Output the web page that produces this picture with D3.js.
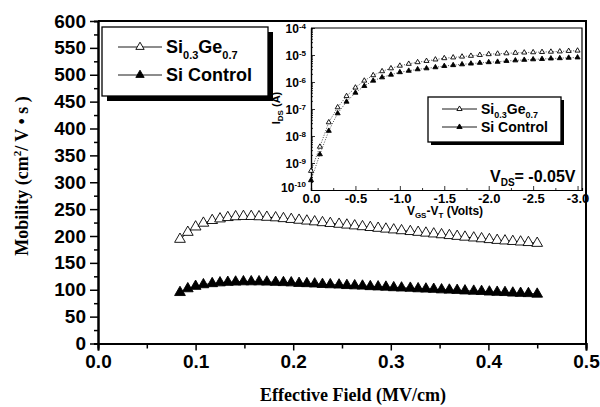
<!DOCTYPE html>
<html>
<head>
<meta charset="utf-8">
<script src="https://d3js.org/d3.v7.min.js"></script>
<style>
body { margin: 0; background: #fff; }
.axis path, .axis line { fill: none; stroke: #000; }
.axis text { font-family: "Liberation Sans", Arial, sans-serif; font-weight: bold; fill: #000; }
.main.axis path { stroke-width: 2; }
.main.axis line { stroke-width: 1.5; }
.main.axis text { font-size: 19px; }
.inset.axis path { stroke-width: 1.2; }
.inset.axis line { stroke-width: 0.8; }
.inset.axis text { font-size: 13px; }
.title { font-family: "Liberation Serif", "Times New Roman", serif; font-weight: bold; font-size: 18px; }
.lg { font-family: "Liberation Sans", Arial, sans-serif; font-weight: bold; }
</style>
</head>
<body>
<div id="container"></div>
<script>

// main plot: mobility vs effective field
var field = [0.084, 0.092, 0.100, 0.108, 0.117, 0.125, 0.133, 0.141, 0.149, 0.157,
             0.165, 0.173, 0.182, 0.190, 0.198, 0.206, 0.214, 0.222, 0.230, 0.238,
             0.247, 0.255, 0.263, 0.271, 0.279, 0.287, 0.295, 0.303, 0.311, 0.320,
             0.328, 0.336, 0.344, 0.352, 0.360, 0.368, 0.376, 0.385, 0.393, 0.401,
             0.409, 0.417, 0.425, 0.433, 0.441, 0.450];
var mobSiGe = [194, 207, 217, 224, 229, 232, 234.5, 236, 236.5, 236.5,
               236, 235, 234, 232.5, 231, 229.5, 228, 226.5, 225, 223.5,
               222, 220.5, 219, 217.5, 216, 214.5, 213, 211.5, 210, 208.5,
               207, 205.5, 204, 202.5, 201, 199.5, 198, 196.5, 195, 193.5,
               192, 191, 190, 189, 188, 186.5];
var mobSi = [95, 102, 106.5, 109.5, 111.5, 113, 114, 114.5, 115, 115,
             115, 114.5, 114, 113.5, 113, 112, 111.5, 111, 110, 109.5,
             109, 108, 107.5, 107, 106, 105.5, 105, 104, 103.5, 103,
             102, 101.5, 101, 100, 99.5, 99, 98, 97.5, 97, 96,
             95.5, 95, 94, 93.5, 93, 92];
var xTicks = [0.0, 0.1, 0.2, 0.3, 0.4, 0.5];
var yTicks = [0, 50, 100, 150, 200, 250, 300, 350, 400, 450, 500, 550, 600];

// inset: I_DS vs V_GS - V_T
var vgs = [0.0, -0.1, -0.2, -0.3, -0.4, -0.5, -0.6, -0.7, -0.8, -0.9,
           -1.0, -1.1, -1.2, -1.3, -1.4, -1.5, -1.6, -1.7, -1.8, -1.9,
           -2.0, -2.1, -2.2, -2.3, -2.4, -2.5, -2.6, -2.7, -2.8, -2.9, -3.0];
var idsSiGe = [5.1e-10, 4.0e-9, 3.2e-8, 1.15e-7, 3.0e-7, 6.2e-7, 1.12e-6, 1.78e-6, 2.5e-6, 3.2e-6,
               4.0e-6, 4.7e-6, 5.4e-6, 6.0e-6, 6.8e-6, 7.6e-6, 8.1e-6, 8.7e-6, 9.3e-6, 1.0e-5,
               1.07e-5, 1.12e-5, 1.15e-5, 1.2e-5, 1.23e-5, 1.26e-5, 1.29e-5, 1.32e-5, 1.35e-5, 1.41e-5, 1.45e-5];
var idsSi = [2.3e-10, 2.1e-9, 1.55e-8, 6.9e-8, 1.86e-7, 4.0e-7, 7.1e-7, 1.12e-6, 1.48e-6, 1.86e-6,
             2.3e-6, 2.6e-6, 2.95e-6, 3.2e-6, 3.5e-6, 3.9e-6, 4.2e-6, 4.5e-6, 4.8e-6, 5.1e-6,
             5.4e-6, 5.6e-6, 6.0e-6, 6.3e-6, 6.6e-6, 6.9e-6, 7.1e-6, 7.4e-6, 7.6e-6, 7.9e-6, 8.1e-6];
var insetXTicks = [0.0, -0.5, -1.0, -1.5, -2.0, -2.5, -3.0];
var insetYExp = [-10, -9, -8, -7, -6, -5, -4];

var svg = d3.select("#container").append("svg")
    .attr("width", 600)
    .attr("height", 407);

var x = d3.scaleLinear().domain([0, 0.5]).range([98, 586]),
    y = d3.scaleLinear().domain([0, 600]).range([343.5, 21]);

// minor ticks
svg.append("g").attr("class", "main axis")
    .attr("transform", "translate(0," + y(0) + ")")
    .call(d3.axisBottom(x).tickValues(d3.range(0.05, 0.5, 0.1)).tickSize(5).tickFormat(""));
svg.append("g").attr("class", "main axis")
    .attr("transform", "translate(" + x(0) + ",0)")
    .call(d3.axisLeft(y).tickValues(d3.range(25, 600, 50)).tickSize(4).tickFormat(""));

svg.append("g").attr("class", "main axis")
    .attr("transform", "translate(0," + y(0) + ")")
    .call(d3.axisBottom(x).tickValues(xTicks).tickSize(7).tickPadding(4).tickFormat(d3.format(".1f")));
svg.append("g").attr("class", "main axis")
    .attr("transform", "translate(" + x(0) + ",0)")
    .call(d3.axisLeft(y).tickValues(yTicks).tickSize(8).tickPadding(4).tickSizeOuter(0));

// top and right frame
svg.append("path")
    .attr("d", "M" + x(0) + "," + y(600) + "H" + x(0.5) + "V" + y(0))
    .attr("fill", "none").attr("stroke", "#000").attr("stroke-width", 2);

svg.append("text").attr("class", "title")
    .attr("x", 353).attr("y", 401)
    .attr("text-anchor", "middle")
    .text("Effective Field (MV/cm)");

var yt = svg.append("text").attr("class", "title")
    .attr("transform", "translate(28,176) rotate(-90)")
    .attr("text-anchor", "middle");
yt.append("tspan").text("Mobility (cm");
yt.append("tspan").attr("dy", -7).style("font-size", "11px").text("2");
yt.append("tspan").attr("dy", 7).text("/ V \u2022 s )");

var tri = d3.symbol().type(d3.symbolTriangle);

function series(g, xs, ys, sx, sy, size, filled, dash, lw) {
  var pts = xs.map(function(d, i) { return [d, ys[i]]; });
  g.append("path")
    .datum(pts)
    .attr("fill", "none")
    .attr("stroke", "#000")
    .attr("stroke-width", lw)
    .attr("stroke-dasharray", dash)
    .attr("d", d3.line().x(function(d) { return sx(d[0]); }).y(function(d) { return sy(d[1]); }));
  g.selectAll(null)
    .data(pts)
    .enter().append("path")
    .attr("transform", function(d) { return "translate(" + sx(d[0]) + "," + sy(d[1]) + ")"; })
    .attr("d", tri.size(size)())
    .attr("fill", filled ? "#000" : "#fff")
    .attr("stroke", "#000")
    .attr("stroke-width", 0.9);
}

var gMain = svg.append("g");
series(gMain, field, mobSiGe, x, y, 50, false, null, 1);
series(gMain, field, mobSi, x, y, 50, true, null, 1);

// legend with shadow
function legend(g, bx, by, bw, bh, sh, rows, fs, subFs, lineX0, lineX1, msize) {
  g.append("rect").attr("x", bx + sh).attr("y", by + sh).attr("width", bw).attr("height", bh).attr("fill", "#000");
  g.append("rect").attr("x", bx).attr("y", by).attr("width", bw).attr("height", bh)
    .attr("fill", "#fff").attr("stroke", "#000").attr("stroke-width", 1.3);
  rows.forEach(function(r) {
    g.append("line").attr("x1", lineX0).attr("x2", lineX1).attr("y1", r.y).attr("y2", r.y)
      .attr("stroke", "#000").attr("stroke-width", 0.9);
    g.append("path").attr("transform", "translate(" + ((lineX0 + lineX1) / 2) + "," + r.y + ")")
      .attr("d", tri.size(msize)())
      .attr("fill", r.filled ? "#000" : "#fff").attr("stroke", "#000").attr("stroke-width", 0.9);
    var t = g.append("text").attr("class", "lg").attr("x", lineX1 + 4).attr("y", r.y + fs * 0.36)
      .style("font-size", fs + "px");
    r.parts.forEach(function(p) {
      var s = t.append("tspan").text(p[0]);
      if (p[1]) s.attr("dy", fs * 0.3).style("font-size", subFs + "px");
      else s.attr("dy", p[2] ? -fs * 0.3 : 0);
    });
  });
}

var names = [
  [["Si"], ["0.3", true], ["Ge", false, true], ["0.7", true]],
  [["Si Control"]]
];

legend(svg.append("g"), 102, 27, 166, 69, 5,
  [{y: 47, filled: false, parts: names[0]}, {y: 75, filled: true, parts: names[1]}],
  18, 11, 118, 162, 30);

// inset
var ix = d3.scaleLinear().domain([0, -3.05]).range([311, 582]),
    iy = d3.scaleLog().domain([1e-10, 1e-4]).range([190, 28]);

var gIn = svg.append("g");
gIn.append("rect").attr("x", ix(0)).attr("y", iy(1e-4))
  .attr("width", ix(-3.05) - ix(0)).attr("height", iy(1e-10) - iy(1e-4))
  .attr("fill", "#fff");

var minorY = [];
insetYExp.slice(0, -1).forEach(function(e) {
  for (var k = 2; k < 10; k++) minorY.push(k * Math.pow(10, e));
});
gIn.append("g").attr("class", "inset axis")
  .attr("transform", "translate(" + ix(0) + ",0)")
  .call(d3.axisLeft(iy).tickValues(minorY).tickSize(-2).tickFormat(""));
gIn.append("g").attr("class", "inset axis")
  .attr("transform", "translate(0," + iy(1e-10) + ")")
  .call(d3.axisBottom(ix).tickValues(d3.range(-0.25, -3.0, -0.5)).tickSize(-2).tickFormat(""));

gIn.append("g").attr("class", "inset axis")
  .attr("transform", "translate(0," + iy(1e-10) + ")")
  .call(d3.axisBottom(ix).tickValues(insetXTicks).tickSize(-4).tickSizeOuter(0).tickPadding(4)
    .tickFormat(function(d) { return d === 0 ? "0.0" : d3.format(".1f")(d).replace("\u2212", "-"); }));

var yAx = gIn.append("g").attr("class", "inset axis")
  .attr("transform", "translate(" + ix(0) + ",0)")
  .call(d3.axisLeft(iy).tickValues(insetYExp.map(function(e) { return Math.pow(10, e); }))
    .tickSize(-4).tickSizeOuter(0).tickPadding(5).tickFormat(""));
yAx.selectAll(".tick").append("text")
  .attr("x", -5).attr("dy", function(d) { return d < 1e-9 ? "0.1em" : "0.35em"; })
  .attr("text-anchor", "end")
  .each(function(d) {
    var t = d3.select(this);
    t.append("tspan").style("font-size", "12px").text("10");
    t.append("tspan").attr("dy", "-0.55em").style("font-size", "8px")
      .text("-" + Math.round(-Math.log10(d)));
  });

gIn.append("path")
  .attr("d", "M" + ix(0) + "," + iy(1e-4) + "H" + ix(-3.05) + "V" + iy(1e-10))
  .attr("fill", "none").attr("stroke", "#000").attr("stroke-width", 1.2);

series(gIn, vgs, idsSiGe, ix, iy, 11, false, "1,1.5", 0.7);
series(gIn, vgs, idsSi, ix, iy, 11, true, "1,1.5", 0.7);

var ixl = gIn.append("text").attr("class", "lg").attr("x", 445).attr("y", 215)
  .attr("text-anchor", "middle").style("font-size", "12px");
ixl.append("tspan").text("V");
ixl.append("tspan").attr("dy", 3).style("font-size", "8px").text("GS");
ixl.append("tspan").attr("dy", -3).text("-V");
ixl.append("tspan").attr("dy", 3).style("font-size", "8px").text("T");
ixl.append("tspan").attr("dy", -3).text(" (Volts)");

var iyl = gIn.append("text").attr("class", "lg")
  .attr("transform", "translate(280,108) rotate(-90)")
  .attr("text-anchor", "middle").style("font-size", "11px");
iyl.append("tspan").text("I");
iyl.append("tspan").attr("dy", 3).style("font-size", "8px").text("DS");
iyl.append("tspan").attr("dy", -3).text(" (A)");

legend(gIn, 428, 97, 133, 45, 3,
  [{y: 109, filled: false, parts: names[0]}, {y: 127, filled: true, parts: names[1]}],
  14, 9, 442, 477, 12);

var vds = gIn.append("text").attr("class", "lg").attr("x", 490).attr("y", 182)
  .style("font-size", "16px");
vds.append("tspan").text("V");
vds.append("tspan").attr("dy", 4).style("font-size", "10px").text("DS");
vds.append("tspan").attr("dy", -4).text("= -0.05V");

</script>
</body>
</html>
